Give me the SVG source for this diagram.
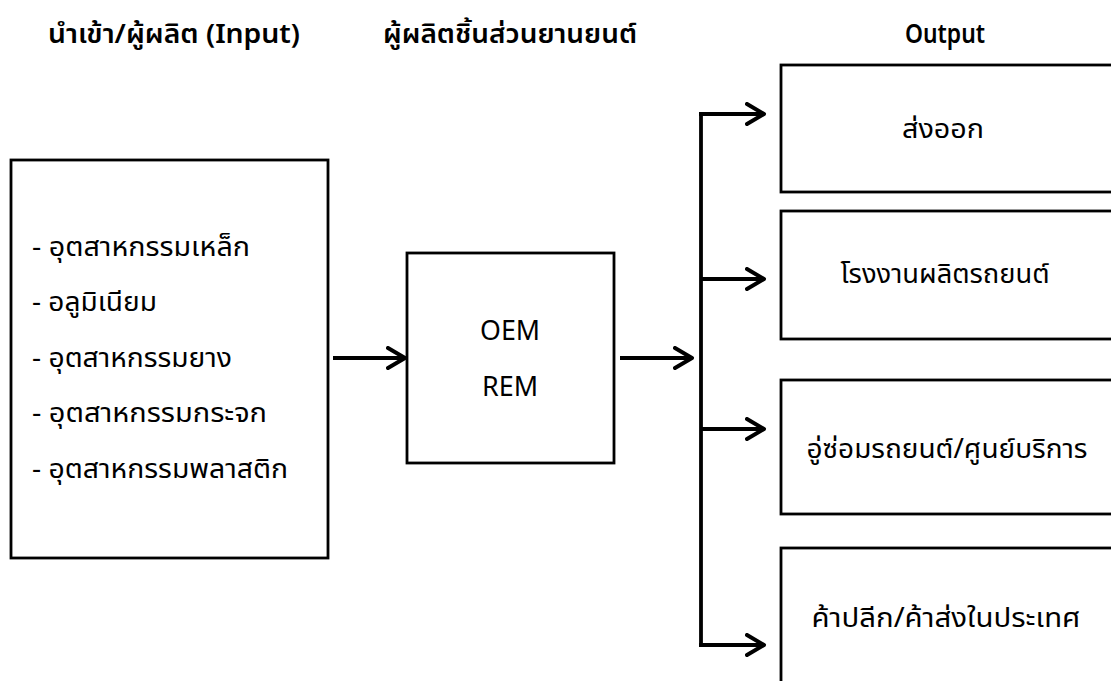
<svg xmlns="http://www.w3.org/2000/svg" width="1111" height="681" viewBox="0 0 1111 681">
<style>
.box{fill:#fff;stroke:#000;stroke-width:2.8}
.t{font-family:"Noto Sans","Noto Sans Thai","Liberation Sans",sans-serif;font-size:27px;fill:#000}
.h{font-weight:600;text-anchor:middle}
.c{text-anchor:middle}
.ln{fill:none;stroke:#000;stroke-width:3.8}
</style>
<defs>
<marker id="ah" markerWidth="22" markerHeight="24" refX="19" refY="12" orient="auto" markerUnits="userSpaceOnUse" viewBox="0 0 22 24">
<path d="M2,2 L19,12 L2,22" fill="none" stroke="#000" stroke-width="4" stroke-linecap="round" stroke-linejoin="round"/>
</marker>
</defs>
<rect width="1111" height="681" fill="#fff"/>
<g id="headers">
<text class="t h" x="174" y="43" textLength="252" lengthAdjust="spacingAndGlyphs">นำเข้า/ผู้ผลิต (Input)</text>
<text class="t h" x="510" y="43" textLength="254" lengthAdjust="spacingAndGlyphs">ผู้ผลิตชิ้นส่วนยานยนต์</text>
<text class="t h" x="945" y="43" textLength="80" lengthAdjust="spacingAndGlyphs">Output</text>
</g>
<g id="input">
<rect class="box" x="11" y="160" width="317" height="398"/>
<text class="t" x="32" y="256" textLength="218" lengthAdjust="spacingAndGlyphs">- อุตสาหกรรมเหล็ก</text>
<text class="t" x="32" y="311" textLength="125" lengthAdjust="spacingAndGlyphs">- อลูมิเนียม</text>
<text class="t" x="32" y="367" textLength="200" lengthAdjust="spacingAndGlyphs">- อุตสาหกรรมยาง</text>
<text class="t" x="32" y="422" textLength="235" lengthAdjust="spacingAndGlyphs">- อุตสาหกรรมกระจก</text>
<text class="t" x="32" y="478" textLength="256" lengthAdjust="spacingAndGlyphs">- อุตสาหกรรมพลาสติก</text>
</g>
<g id="maker">
<rect class="box" x="407" y="253" width="207" height="210"/>
<text class="t c" x="510" y="340" textLength="60" lengthAdjust="spacingAndGlyphs">OEM</text>
<text class="t c" x="510" y="396" textLength="56" lengthAdjust="spacingAndGlyphs">REM</text>
</g>
<g id="out1">
<rect class="box" x="781" y="65" width="340" height="127"/>
<text class="t c" x="943" y="138" textLength="82" lengthAdjust="spacingAndGlyphs">ส่งออก</text>
</g>
<g id="out2">
<rect class="box" x="781" y="211" width="340" height="128"/>
<text class="t c" x="945" y="283" textLength="209" lengthAdjust="spacingAndGlyphs">โรงงานผลิตรถยนต์</text>
</g>
<g id="out3">
<rect class="box" x="781" y="380" width="340" height="134"/>
<text class="t c" x="947" y="458" textLength="281" lengthAdjust="spacingAndGlyphs">อู่ซ่อมรถยนต์/ศูนย์บริการ</text>
</g>
<g id="out4">
<rect class="box" x="781" y="548" width="340" height="150"/>
<text class="t c" x="946" y="627" textLength="269" lengthAdjust="spacingAndGlyphs">ค้าปลีก/ค้าส่งในประเทศ</text>
</g>
<g id="connectors">
<line class="ln" x1="333" y1="358" x2="405" y2="358" marker-end="url(#ah)"/>
<line class="ln" x1="620" y1="358" x2="692" y2="358" marker-end="url(#ah)"/>
<path class="ln" d="M701,114 V645"/>
<line class="ln" x1="699" y1="114" x2="764" y2="114" marker-end="url(#ah)"/>
<line class="ln" x1="701" y1="279" x2="764" y2="279" marker-end="url(#ah)"/>
<line class="ln" x1="701" y1="429" x2="764" y2="429" marker-end="url(#ah)"/>
<line class="ln" x1="699" y1="645" x2="764" y2="645" marker-end="url(#ah)"/>
</g>
</svg>
